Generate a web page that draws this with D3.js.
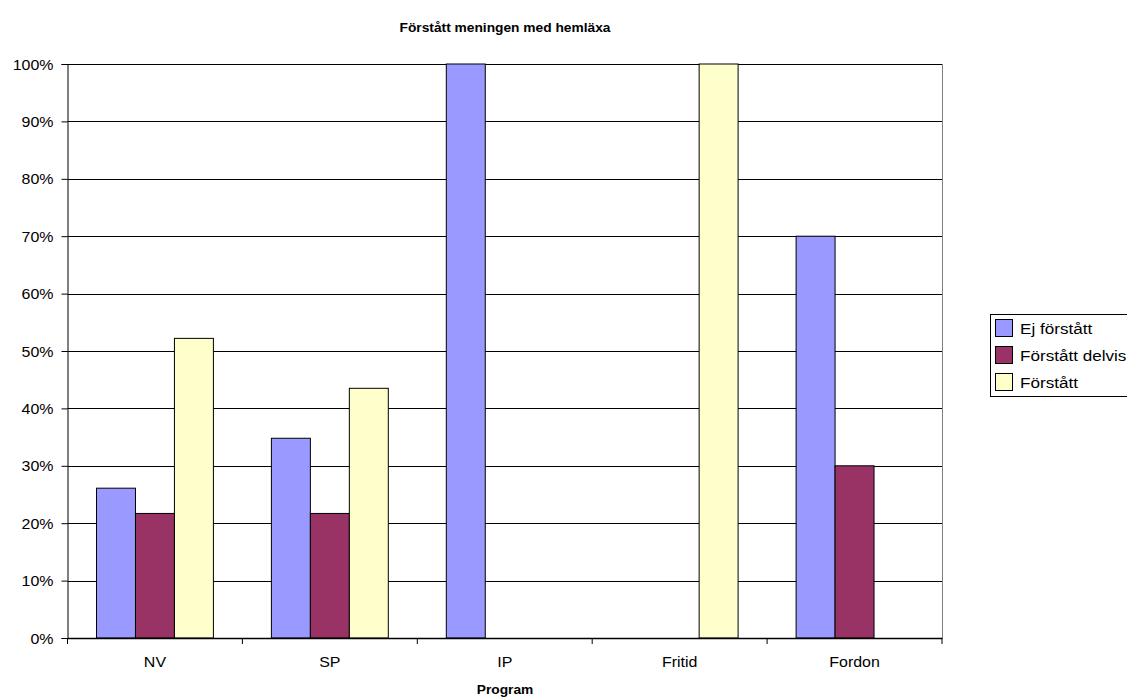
<!DOCTYPE html>
<html><head><meta charset="utf-8">
<script src="https://cdn.jsdelivr.net/npm/d3@7"></script>
<style>body{margin:0;background:#fff;} text{font-family:"Liberation Sans",Arial,sans-serif;}</style>
</head><body>
<svg id="c" width="1127" height="698"></svg>
<script>
const categories = ["NV","SP","IP","Fritid","Fordon"];
const seriesNames = ["Ej förstått","Förstått delvis","Förstått"];
const ejForstatt = [26.1, 34.8, 100, 0, 70];
const forstattDelvis = [21.7, 21.7, 0, 0, 30];
const forstatt = [52.2, 43.5, 0, 100, 0];
const colors = ["#9999FF","#993366","#FFFFCC"];
const yTicks = [0,10,20,30,40,50,60,70,80,90,100];
const title = "Förstått meningen med hemläxa";
const xTitle = "Program";

const SX = 1.14;
const FF = "Liberation Sans, Arial, sans-serif";
const seriesValues = [ejForstatt, forstattDelvis, forstatt];
const svg = d3.select("#c");
const L=67.5, R=942, T=64, B=638;
const x = d3.scaleBand().domain(categories).range([L,R]);
const inner = d3.scaleBand().domain(seriesNames).range([29, x.bandwidth()-29]);
const y = d3.scaleLinear().domain([0,100]).range([B,T]);

function stext(g, tx, ty, str, size, anchor, bold, sx){
  return g.append("text").attr("transform",`translate(${tx},${ty}) scale(${sx||SX},1)`)
    .attr("text-anchor",anchor).attr("font-size",size).attr("font-weight",bold?"bold":"normal")
    .style("font-family",FF).attr("fill","#000").text(str);
}

// gridlines
svg.append("g").selectAll("line").data(yTicks.slice(1)).join("line")
  .attr("x1",L).attr("x2",R).attr("y1",d=>Math.round(y(d))+0.5).attr("y2",d=>Math.round(y(d))+0.5)
  .attr("stroke","#000").attr("stroke-width",1);
// right border
svg.append("line").attr("x1",R+0.5).attr("x2",R+0.5).attr("y1",T).attr("y2",B).attr("stroke","#808080");

// bars
const data=[];
categories.forEach((c,i)=>seriesNames.forEach((s,j)=>data.push({c,s,v:seriesValues[j][i],j})));
svg.append("g").selectAll("rect").data(data).join("rect")
  .attr("x",d=>x(d.c)+inner(d.s)).attr("width",inner.bandwidth())
  .attr("y",d=>y(d.v)).attr("height",d=>B-y(d.v))
  .attr("fill",d=>colors[d.j]).attr("stroke","#000").attr("stroke-width",1);

// y axis
const ya = svg.append("g").attr("transform",`translate(${L},0)`)
  .call(d3.axisLeft(y).tickValues(yTicks).tickFormat(d=>d+"%").tickSize(6).tickPadding(8));
ya.select(".domain").attr("stroke","#000");
ya.selectAll(".tick text").each(function(){
  const t=d3.select(this); const xv=+t.attr("x");
  t.attr("x",null).attr("dy",null).attr("transform",`translate(${xv},5) scale(${SX},1)`)
   .attr("font-size",14).attr("fill","#000").style("font-family",FF);
});
// x axis
const xa = svg.append("g").attr("transform",`translate(0,${B})`)
  .call(d3.axisBottom(x).tickSize(0).tickPadding(18));
xa.select(".domain").attr("stroke","#000").attr("stroke-width",1.5);
xa.selectAll(".tick text").each(function(){
  const t=d3.select(this);
  t.attr("y",null).attr("dy",null).attr("transform",`translate(0,29) scale(${SX},1)`)
   .attr("font-size",14).attr("fill","#000").style("font-family",FF);
});
// category separator ticks
svg.append("g").selectAll("line").data(d3.range(categories.length+1)).join("line")
  .attr("x1",i=>L+i*x.step()).attr("x2",i=>L+i*x.step()).attr("y1",B).attr("y2",B+6).attr("stroke","#000");

// titles
stext(svg, 505, 32, title, 13, "middle", true, 1.06);
stext(svg, 505, 694, xTitle, 13, "middle", true, 1.06);

// legend
const lg = svg.append("g");
lg.append("rect").attr("x",990.5).attr("y",314.5).attr("width",150).attr("height",82).attr("fill","#fff").attr("stroke","#000");
seriesNames.forEach((s,i)=>{
  const cy = 328+i*27;
  lg.append("rect").attr("x",995.5).attr("y",cy-8.5).attr("width",17).attr("height",17).attr("fill",colors[i]).attr("stroke","#000");
  stext(lg, 1020, cy+5.5, s, 15, "start", false);
});
</script>
</body></html>
